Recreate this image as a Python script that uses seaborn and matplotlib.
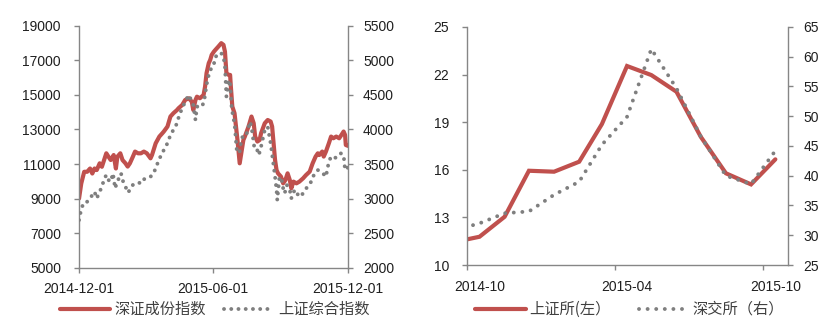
import matplotlib
matplotlib.use("Agg")
import matplotlib.pyplot as plt
import seaborn as sns
import pandas as pd
import numpy as np

# ---------------- data: left chart ----------------
szci_dates = [
    "2014-12-01","2014-12-04","2014-12-08","2014-12-12","2014-12-16","2014-12-19","2014-12-22","2014-12-25",
    "2014-12-29","2015-01-01","2015-01-04","2015-01-07","2015-01-10","2015-01-13","2015-01-17","2015-01-20",
    "2015-01-22","2015-01-26","2015-01-29","2015-02-02","2015-02-05","2015-02-08","2015-02-12","2015-02-15",
    "2015-02-19","2015-02-23","2015-02-27","2015-03-03","2015-03-08","2015-03-10","2015-03-15","2015-03-20",
    "2015-03-24","2015-03-26","2015-03-31","2015-04-04","2015-04-08","2015-04-13","2015-04-15","2015-04-20",
    "2015-04-24","2015-04-29","2015-05-03","2015-05-05","2015-05-08","2015-05-10","2015-05-14","2015-05-19",
    "2015-05-21","2015-05-23","2015-05-26","2015-05-28","2015-05-30","2015-06-02","2015-06-04","2015-06-08",
    "2015-06-12","2015-06-15","2015-06-17","2015-06-19","2015-06-22","2015-06-24","2015-06-25","2015-06-27",
    "2015-06-30","2015-07-04","2015-07-07","2015-07-12","2015-07-14","2015-07-19","2015-07-23","2015-07-26",
    "2015-07-28","2015-07-31","2015-08-03","2015-08-05","2015-08-10","2015-08-14","2015-08-18","2015-08-20",
    "2015-08-24","2015-08-26","2015-08-28","2015-09-01","2015-09-04","2015-09-07","2015-09-10","2015-09-13",
    "2015-09-15","2015-09-18","2015-09-22","2015-09-26","2015-10-01","2015-10-05","2015-10-10","2015-10-14",
    "2015-10-18","2015-10-21","2015-10-23","2015-10-27","2015-10-29","2015-11-01","2015-11-05","2015-11-08",
    "2015-11-11","2015-11-15","2015-11-19","2015-11-22","2015-11-25","2015-11-27","2015-11-28","2015-12-01",
    "2015-12-03",
]
szci_values = [
    9000, 9870, 10550, 10550, 10740, 10450, 10740, 10650,
    11040, 10840, 11230, 11620, 11420, 11230, 11520, 10740,
    11420, 11620, 11230, 11040, 10850, 11040, 11420, 11720,
    11620, 11620, 11720, 11620, 11330, 11520, 12200, 12590,
    12780, 12880, 13170, 13750, 13940, 14130, 14230, 14420,
    14710, 14810, 14610, 14130, 14710, 14900, 14810, 15000,
    15480, 16260, 16840, 17030, 17320, 17510, 17610, 17800,
    18000, 17900, 17510, 16260, 16160, 16160, 15480, 14330,
    13940, 12390, 11040, 12390, 12590, 13170, 13750, 13360,
    12590, 12300, 12390, 12780, 13360, 13550, 13460, 13170,
    11230, 10650, 10460, 10270, 9880, 10070, 10460, 10070,
    9590, 9980, 9880, 9980, 10170, 10360, 10560, 11040,
    11430, 11620, 11520, 11720, 11430, 11720, 12200, 12590,
    12490, 12590, 12490, 12680, 12880, 12680, 12100, 12050,
    12100,
]

sse_dates = [
    "2014-12-01","2014-12-03","2014-12-06","2014-12-09","2014-12-12","2014-12-16","2014-12-19","2014-12-22",
    "2014-12-25","2014-12-29","2015-01-01","2015-01-04","2015-01-07","2015-01-10","2015-01-13","2015-01-16",
    "2015-01-19","2015-01-21","2015-01-23","2015-01-27","2015-01-29","2015-01-31","2015-02-03","2015-02-05",
    "2015-02-08","2015-02-12","2015-02-15","2015-02-20","2015-02-24","2015-02-27","2015-03-03","2015-03-08",
    "2015-03-12","2015-03-16","2015-03-19","2015-03-24","2015-03-27","2015-03-31","2015-04-04","2015-04-08",
    "2015-04-13","2015-04-16","2015-04-21","2015-04-25","2015-04-29","2015-05-02","2015-05-05","2015-05-08",
    "2015-05-10","2015-05-14","2015-05-17","2015-05-20","2015-05-23","2015-05-26","2015-05-28","2015-05-30",
    "2015-06-02","2015-06-03","2015-06-08","2015-06-12","2015-06-15","2015-06-17","2015-06-19","2015-06-22",
    "2015-06-24","2015-06-26","2015-06-28","2015-06-30","2015-07-03","2015-07-05","2015-07-07","2015-07-09",
    "2015-07-12","2015-07-16","2015-07-21","2015-07-23","2015-07-27","2015-07-30","2015-08-02","2015-08-05",
    "2015-08-10","2015-08-14","2015-08-18","2015-08-21","2015-08-24","2015-08-26","2015-08-27","2015-08-30",
    "2015-09-02","2015-09-03","2015-09-06","2015-09-09","2015-09-13","2015-09-15","2015-09-18","2015-09-22",
    "2015-09-24","2015-09-28","2015-10-03","2015-10-07","2015-10-12","2015-10-14","2015-10-18","2015-10-21",
    "2015-10-24","2015-10-28","2015-11-01","2015-11-05","2015-11-08","2015-11-12","2015-11-17","2015-11-21",
    "2015-11-25","2015-11-27","2015-12-01",
]
sse_values = [
    2688, 2795, 2906, 2906, 2954, 3002, 3051, 3099,
    3002, 3099, 3171, 3278, 3341, 3268, 3244, 3365,
    3147, 3220, 3268, 3365, 3268, 3220, 3147, 3085,
    3123, 3196, 3220, 3229, 3220, 3278, 3300, 3316,
    3365, 3461, 3558, 3655, 3727, 3800, 3920, 3993,
    4089, 4210, 4331, 4428, 4500, 4428, 4355, 4138,
    4331, 4331, 4331, 4428, 4645, 4790, 4862, 4886,
    4935, 5031, 5104, 5104, 5056, 4911, 4476, 4717,
    4669, 4331, 4186, 4089, 3703, 3655, 3679, 3848,
    3920, 3920, 4113, 4041, 3727, 3727, 3630, 3751,
    3993, 4041, 3800, 3558, 3316, 3123, 2978, 3316,
    3268, 3186, 3075, 3196, 3123, 3002, 3099, 3123,
    3051, 3027, 3114, 3171, 3244, 3316, 3365, 3413,
    3389, 3365, 3316, 3534, 3606, 3582, 3606, 3655,
    3630, 3413, 3450,
]

left_series_names = ["深证成份指数", "上证综合指数"]
left_xtick_labels = ["2014-12-01", "2015-06-01", "2015-12-01"]
left_y1_ticks = [5000, 7000, 9000, 11000, 13000, 15000, 17000, 19000]
left_y2_ticks = [2000, 2500, 3000, 3500, 4000, 4500, 5000, 5500]

# ---------------- data: right chart ----------------
sh_dates = ["2014-10-01","2014-10-16","2014-11-16","2014-12-16","2015-01-16","2015-02-16","2015-03-16",
            "2015-04-16","2015-05-16","2015-06-16","2015-07-16","2015-08-16","2015-09-16","2015-10-16"]
sh_values = [11.62, 11.78, 13.04, 15.94, 15.88, 16.51, 18.88, 22.54, 21.97, 20.92, 18.08, 15.78, 15.08, 16.66]

sz_dates = ["2014-10-08","2014-10-16","2014-11-16","2014-12-16","2015-01-16","2015-02-16","2015-03-16",
            "2015-04-16","2015-05-16","2015-06-16","2015-07-16","2015-08-16","2015-09-16","2015-10-16"]
sz_values = [31.7, 32.0, 33.7, 34.0, 36.8, 39.0, 45.2, 49.9, 61.3, 54.7, 46.6, 40.0, 38.6, 44.2]

right_series_names = ["上证所(左）", "深交所（右）"]
right_xtick_labels = ["2014-10", "2015-04", "2015-10"]
right_y1_ticks = [10, 13, 16, 19, 22, 25]
right_y2_ticks = [25, 30, 35, 40, 45, 50, 55, 60, 65]

# ---------------- style ----------------
sns.set_theme(style="white")
plt.rcParams["font.family"] = ["Liberation Sans", "Noto Sans CJK SC", "DejaVu Sans"]
RED = "#C0504D"
GRAY = "#7F7F7F"
SPINE = "#868686"
TXT = "#1f1f1f"
LEGTXT = "#404040"
CJK = ["Noto Sans CJK SC", "DejaVu Sans"]

fig = plt.figure(figsize=(8.32, 3.32), dpi=100)
fig.patch.set_facecolor("white")

def style_axes(ax, ax2):
    for a in (ax, ax2):
        a.set_facecolor("none")
        for s in a.spines.values():
            s.set_color(SPINE)
            s.set_linewidth(1.0)
        a.spines["top"].set_visible(False)
        a.grid(False)
        a.set_xlabel("")
        a.set_ylabel("")
    ax.spines["right"].set_visible(False)
    ax2.spines["left"].set_visible(False)
    ax2.spines["bottom"].set_visible(False)
    ax.tick_params(axis="y", which="major", direction="out", length=3.6, width=1, color=SPINE,
                   labelsize=10, labelcolor=TXT, pad=9.4, left=True)
    ax2.tick_params(axis="y", which="major", direction="out", length=3.6, width=1, color=SPINE,
                    labelsize=10, labelcolor=TXT, pad=7.2, right=True)
    ax.tick_params(axis="x", which="major", direction="out", length=3.6, width=1, color=SPINE,
                   labelsize=10, labelcolor=TXT, pad=7.0, bottom=True)

# ---------------- left chart ----------------
axL = fig.add_axes([0.095, 0.194, 0.3233, 0.728])
axL2 = axL.twinx()
dL1 = pd.to_datetime(szci_dates)
dL2 = pd.to_datetime(sse_dates)
sns.lineplot(x=dL1, y=szci_values, ax=axL, color=RED, linewidth=3.0, legend=False)
sns.lineplot(x=dL2, y=sse_values, ax=axL2, color=GRAY, linewidth=2.8, legend=False)
lineL1 = axL.lines[0]
lineL2 = axL2.lines[0]
lineL1.set_solid_joinstyle("round")
lineL2.set_linestyle((0, (0.01, 1.85)))
lineL2.set_dash_capstyle("round")

axL.set_xlim(pd.Timestamp("2014-12-01"), pd.Timestamp("2015-12-01"))
axL.set_ylim(left_y1_ticks[0], left_y1_ticks[-1])
axL2.set_ylim(left_y2_ticks[0], left_y2_ticks[-1])
axL.set_yticks(left_y1_ticks)
axL.set_yticklabels([str(v) for v in left_y1_ticks])
axL2.set_yticks(left_y2_ticks)
axL2.set_yticklabels([str(v) for v in left_y2_ticks])
axL.set_xticks(pd.to_datetime(left_xtick_labels))
axL.set_xticklabels(left_xtick_labels)
style_axes(axL, axL2)

legL = fig.legend(handles=[lineL1, lineL2], labels=left_series_names, loc="center",
                  bbox_to_anchor=(0.258, 0.068), ncol=2, frameon=False,
                  prop={"family": CJK, "size": 11}, handlelength=3.3, handletextpad=0.25,
                  columnspacing=1.2, borderaxespad=0)
for t in legL.get_texts():
    t.set_color(LEGTXT)

# ---------------- right chart ----------------
axR = fig.add_axes([0.5617, 0.2018, 0.3858, 0.7169])
axR2 = axR.twinx()
dR1 = pd.to_datetime(sh_dates)
dR2 = pd.to_datetime(sz_dates)
sns.lineplot(x=dR1, y=sh_values, ax=axR, color=RED, linewidth=3.0, legend=False)
sns.lineplot(x=dR2, y=sz_values, ax=axR2, color=GRAY, linewidth=2.8, legend=False)
lineR1 = axR.lines[0]
lineR2 = axR2.lines[0]
lineR1.set_solid_joinstyle("miter")
lineR2.set_linestyle((0, (0.01, 2.2)))
lineR2.set_dash_capstyle("round")

axR.set_xlim(pd.Timestamp("2014-10-01"), pd.Timestamp("2015-11-01"))
axR.set_ylim(right_y1_ticks[0], right_y1_ticks[-1])
axR2.set_ylim(right_y2_ticks[0], right_y2_ticks[-1])
axR.set_yticks(right_y1_ticks)
axR.set_yticklabels([str(v) for v in right_y1_ticks])
axR2.set_yticks(right_y2_ticks)
axR2.set_yticklabels([str(v) for v in right_y2_ticks])
month_starts = pd.to_datetime([s + "-01" for s in right_xtick_labels])
axR.set_xticks(month_starts)
axR.set_xticklabels(["" for _ in right_xtick_labels])
axR.set_xticks(month_starts + pd.Timedelta(days=15), minor=True)
axR.set_xticklabels(right_xtick_labels, minor=True)
style_axes(axR, axR2)
axR.tick_params(axis="x", which="minor", length=0, labelsize=10, labelcolor=TXT, pad=10.6)

legR = fig.legend(handles=[lineR1, lineR2], labels=right_series_names, loc="center",
                  bbox_to_anchor=(0.757, 0.068), ncol=2, frameon=False,
                  prop={"family": CJK, "size": 11}, handlelength=3.3, handletextpad=0.25,
                  columnspacing=1.8, borderaxespad=0)
for t in legR.get_texts():
    t.set_color(LEGTXT)

fig.savefig("out.png", dpi=100, facecolor="white")
